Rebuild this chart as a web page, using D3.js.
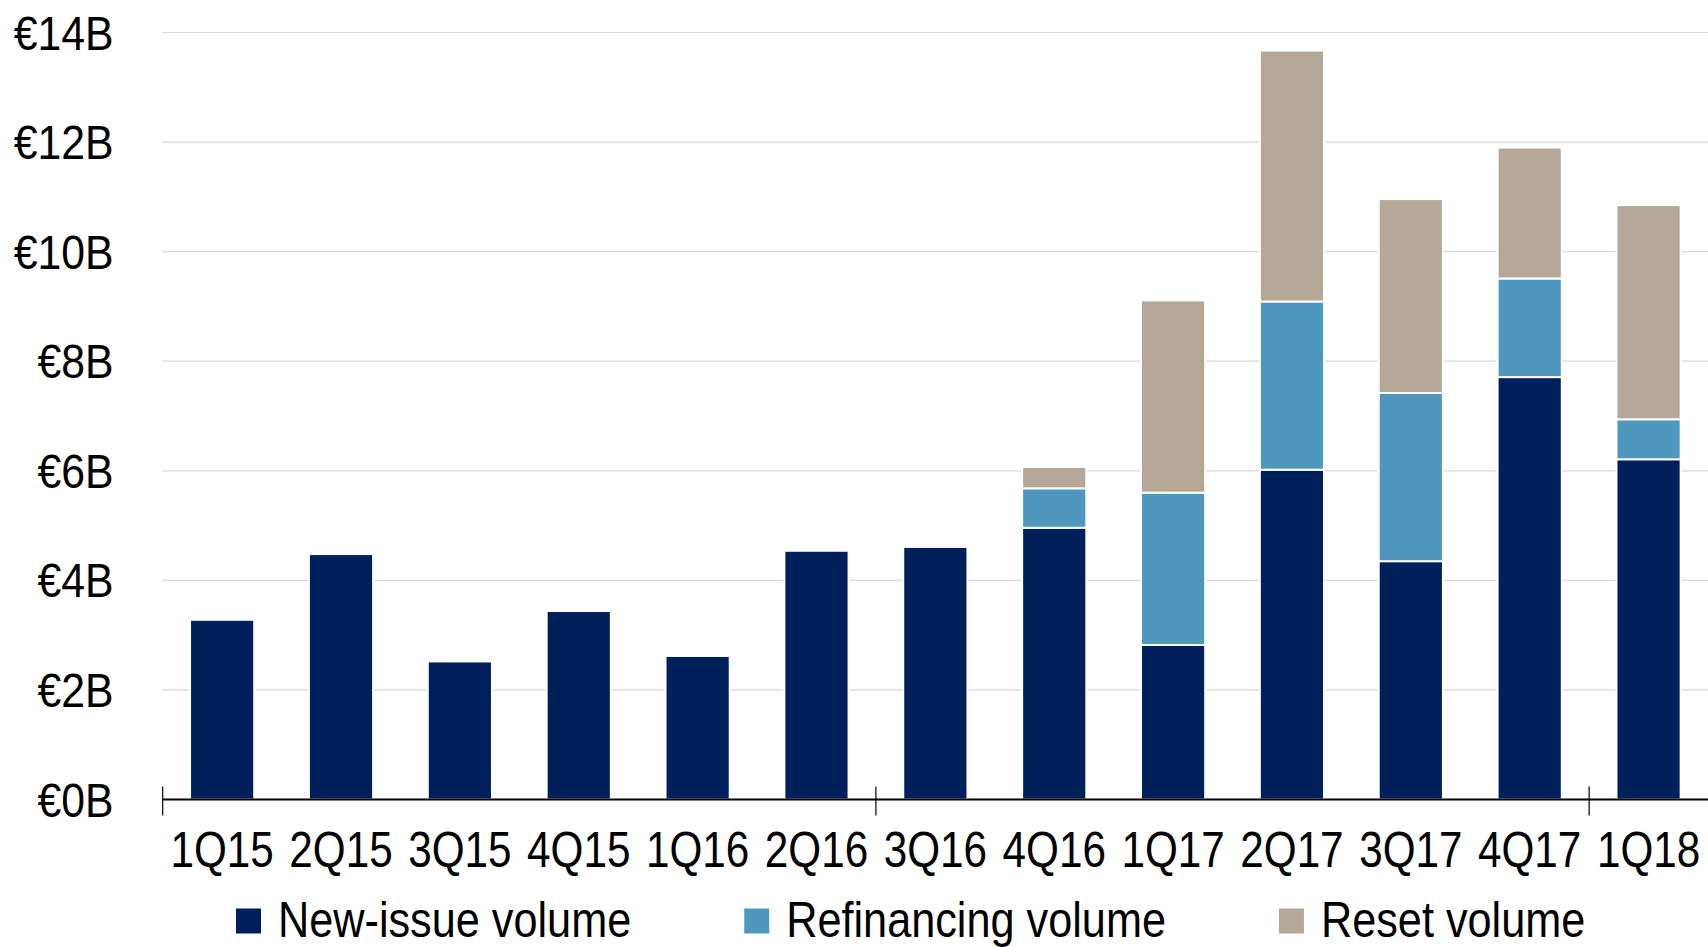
<!DOCTYPE html>
<html>
<head>
<meta charset="utf-8">
<script src="https://cdn.jsdelivr.net/npm/d3@7"></script>
<style>
  html, body { margin: 0; padding: 0; background: #ffffff; }
  svg { display: block; }
  text { font-family: "Liberation Sans", Arial, sans-serif; fill: #000; }
</style>
</head>
<body>
<svg id="chart" width="1708" height="947"></svg>
<script>
// Quarterly CLO volumes, € billions
const quarters = ["1Q15", "2Q15", "3Q15", "4Q15", "1Q16", "2Q16", "3Q16", "4Q16", "1Q17", "2Q17", "3Q17", "4Q17", "1Q18"];
const newIssue    = [3.28, 4.48, 2.52, 3.44, 2.62, 4.54, 4.61, 4.96, 2.82, 6.02, 4.35, 7.71, 6.21];
const refinancing = [0, 0, 0, 0, 0, 0, 0, 0.72, 2.78, 3.07, 3.07, 1.80, 0.73];
const reset       = [0, 0, 0, 0, 0, 0, 0, 0.39, 3.51, 4.58, 3.54, 2.39, 3.91];
const yTicks = [0, 2, 4, 6, 8, 10, 12, 14];
const seriesNames = ["New-issue volume", "Refinancing volume", "Reset volume"];
const seriesColors = ["#00205c", "#4e98c0", "#b5a899"];

const svg = d3.select("#chart");
const left = 162.7, right = 1708, baseY = 799.5, topY = 32.5;

const x = d3.scaleBand().domain(quarters).range([left, right]).paddingInner(0.46).paddingOuter(0.23);
const y = d3.scaleLinear().domain([0, 14]).range([baseY, topY]);

// Condensed lettering: a regular face squeezed horizontally
function label(parent, tx, ty, sx, size, anchor, str) {
  return parent.append("text")
    .attr("transform", `translate(${tx},${ty}) scale(${sx},1)`)
    .attr("text-anchor", anchor)
    .attr("font-size", size)
    .text(str);
}

// Horizontal gridlines
svg.append("g").selectAll("line")
  .data(yTicks.filter(d => d > 0))
  .join("line")
  .attr("x1", left).attr("x2", right)
  .attr("y1", d => y(d)).attr("y2", d => y(d))
  .attr("stroke", "#d9d9d9").attr("stroke-width", 1.2);

// Y-axis labels
const yLabels = svg.append("g");
yTicks.forEach(d => label(yLabels, 113.5, y(d) + 17, 0.9, 47.5, "end", "€" + d + "B"));

// Stacked bars
const rows = quarters.map((q, i) => ({ q, s0: newIssue[i], s1: refinancing[i], s2: reset[i] }));
const stack = d3.stack().keys(["s0", "s1", "s2"])(rows);

svg.append("g").selectAll("g")
  .data(stack)
  .join("g")
  .attr("fill", (d, i) => seriesColors[i])
  .selectAll("rect")
  .data(d => d.filter(p => p[1] - p[0] > 0))
  .join("rect")
  .attr("x", d => x(d.data.q))
  .attr("width", x.bandwidth())
  .attr("y", d => y(d[1]))
  .attr("height", d => y(d[0]) - y(d[1]))
  .attr("stroke", "#ffffff")
  .attr("stroke-width", 2);

// X axis baseline with boundary ticks every six quarters
const axis = svg.append("g");
axis.append("line")
  .attr("x1", left).attr("x2", right)
  .attr("y1", baseY).attr("y2", baseY)
  .attr("stroke", "#000").attr("stroke-width", 2.2);
axis.selectAll("line.tick")
  .data([0, 6, 12])
  .join("line")
  .attr("class", "tick")
  .attr("x1", i => x(quarters[i]) - x.step() * x.paddingInner() / 2)
  .attr("x2", i => x(quarters[i]) - x.step() * x.paddingInner() / 2)
  .attr("y1", 786.5).attr("y2", 815.5)
  .attr("stroke", "#000").attr("stroke-width", 1.2);

// Category labels
const xLabels = svg.append("g");
quarters.forEach(q => label(xLabels, x(q) + x.bandwidth() / 2, 867.3, 0.85, 49.7, "middle", q));

// Legend
const legend = svg.append("g");
const legendScale = 0.87;
let lx = 236;
seriesNames.forEach((name, i) => {
  legend.append("rect")
    .attr("x", lx).attr("y", 908.5)
    .attr("width", 25).attr("height", 25)
    .attr("fill", seriesColors[i]);
  const t = label(legend, lx + 42, 937.3, legendScale, 49.7, "start", name);
  lx += 42 + t.node().getComputedTextLength() * legendScale + 113;
});
</script>
</body>
</html>
